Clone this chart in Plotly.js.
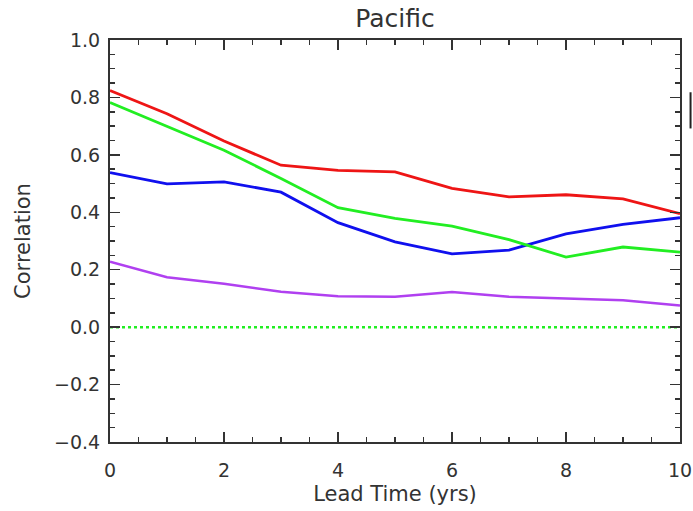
<!DOCTYPE html>
<html>
<head>
<meta charset="utf-8">
<script src="https://cdn.plot.ly/plotly-3.0.1.min.js"></script>
<style>html,body{margin:0;padding:0;background:#fff;}#chart{width:693px;height:511px;}</style>
</head>
<body>
<div id="chart"></div>
<script>
const leadTime = [0,1,2,3,4,5,6,7,8,9,10];
const redSeries = [0.824,0.743,0.648,0.564,0.546,0.541,0.483,0.454,0.461,0.447,0.395];
const greenSeries = [0.782,0.700,0.616,0.518,0.416,0.379,0.352,0.305,0.244,0.279,0.261];
const blueSeries = [0.538,0.499,0.506,0.470,0.364,0.297,0.255,0.268,0.325,0.358,0.381];
const purpleSeries = [0.228,0.174,0.151,0.123,0.108,0.106,0.122,0.106,0.100,0.094,0.075];
const zeroLine = [0,0];
const zeroX = [0,10];
const xTicks = [0,2,4,6,8,10];
const yTicks = [-0.4,-0.2,0.0,0.2,0.4,0.6,0.8,1.0];
const yTickText = ['\u22120.4','\u22120.2','0.0','0.2','0.4','0.6','0.8','1.0'];

const font = 'DejaVu Sans, sans-serif';
const textColor = '#333';
function line(y, color, w) {
  return {x: leadTime, y: y, mode: 'lines', line: {color: color, width: w}, hoverinfo: 'skip', showlegend: false};
}
const traces = [
  {x: zeroX, y: zeroLine, mode: 'lines', line: {color: '#22ee22', width: 2.5, dash: 'dot'}, showlegend: false},
  line(purpleSeries, '#b040f0', 2.5),
  line(blueSeries, '#1010ee', 2.8),
  line(greenSeries, '#22ee22', 2.8),
  line(redSeries, '#ee1515', 2.8)
];
const axisCommon = {
  showline: true, linecolor: '#333', linewidth: 2, mirror: 'allticks',
  ticks: 'inside', ticklen: 10, tickwidth: 1.5, tickcolor: '#333',
  showgrid: false, zeroline: false,
  tickfont: {family: font, size: 19, color: textColor}
};
const layout = {
  width: 693, height: 511,
  margin: {l: 110, r: 13, t: 40, b: 69},
  paper_bgcolor: '#fff', plot_bgcolor: '#fff',
  title: {text: 'Pacific', font: {family: font, size: 25, color: textColor}, xref: 'paper', x: 0.5, xanchor: 'center', y: 0.965, yanchor: 'middle'},
  xaxis: Object.assign({}, axisCommon, {
    range: [0, 10], tickvals: xTicks, ticktext: xTicks.map(String),
    ticklabelstandoff: 10,
    minor: {dtick: 0.5, ticks: 'inside', ticklen: 5, tickwidth: 1.5, tickcolor: '#333'},
    title: {text: 'Lead Time (yrs)', font: {family: font, size: 21, color: textColor}, standoff: 7}
  }),
  yaxis: Object.assign({}, axisCommon, {
    range: [-0.4, 1.0], tickvals: yTicks, ticktext: yTickText,
    ticklabelstandoff: 4,
    minor: {dtick: 0.05, ticks: 'inside', ticklen: 5, tickwidth: 1.5, tickcolor: '#333'},
    title: {text: 'Correlation', font: {family: font, size: 21, color: textColor}, standoff: 18}
  }),
  shapes: [
    {type: 'line', xref: 'paper', yref: 'paper', x0: 1.0185, x1: 1.0185, y0: 0.78, y1: 0.87, line: {color: '#222', width: 2}}
  ]
};
Plotly.newPlot('chart', traces, layout, {staticPlot: true, displayModeBar: false});
</script>
</body>
</html>
